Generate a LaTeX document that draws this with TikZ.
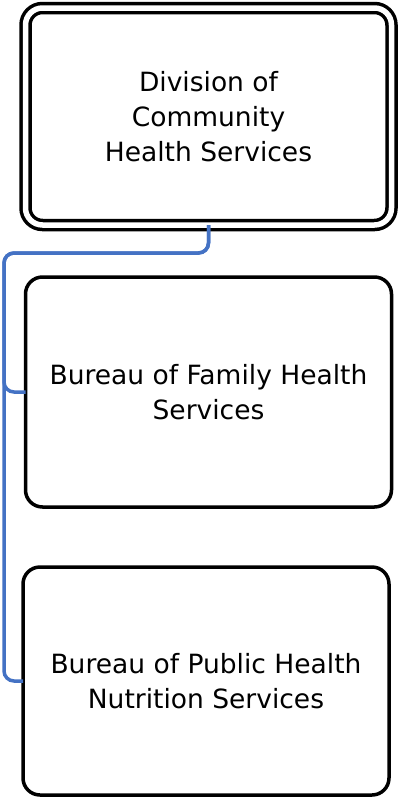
\documentclass[tikz,border=0pt]{standalone}
\usepackage{fontspec}
\setmainfont{DejaVu Sans}
\usetikzlibrary{positioning}
\definecolor{linkblue}{HTML}{4472C4}

\begin{document}
\begin{tikzpicture}
        [x=1pt, y=-1pt,
          unit/.style={draw, line width=3.5pt, rounded corners=17pt, align=center,
            minimum width=366pt, outer sep=0pt, font=\fontsize{26.5}{35}\selectfont},
          link/.style={draw=linkblue, line width=3.5pt, rounded corners=10pt},
          node distance=52pt]
        \useasboundingbox (0,0) rectangle (398,798);
        \node[unit, double, double distance=5.5pt, minimum height=217pt] (div) at (208.5,116.5)
          {Division of\\Community\\Health Services};
        \node[unit, minimum height=230pt, below=52pt of div] (fam) {Bureau of Family Health\\Services};
        \node[unit, minimum height=228pt, below=60pt of fam, xshift=-2.5pt] (nut) {Bureau of Public Health\\Nutrition Services};
        \coordinate (rail) at (4,253);
        \draw[link] (div.south) |- (rail) |- (fam.west);
        \draw[link] (div.south) |- (rail) |- (nut.west);
\end{tikzpicture}
\end{document}
